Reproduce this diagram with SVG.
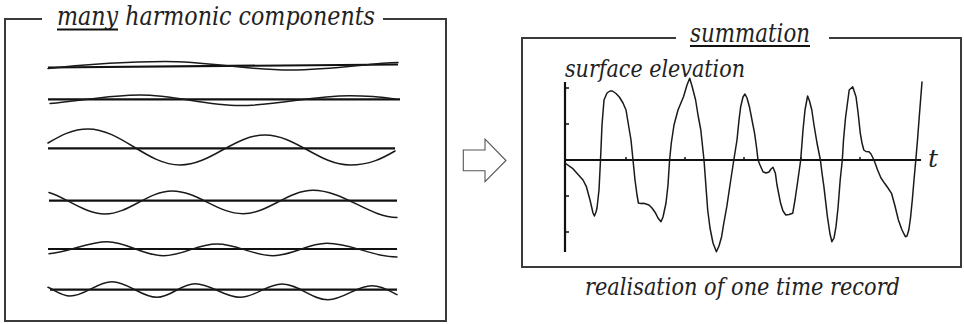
<svg xmlns="http://www.w3.org/2000/svg" width="964" height="324" viewBox="0 0 964 324">
<style>
.frame{fill:none;stroke:#3a3a3a;stroke-width:2}
.axis{fill:none;stroke:#111;stroke-width:2.2}
.wave{fill:none;stroke:#1a1a1a;stroke-width:1.5;stroke-linejoin:round;stroke-linecap:round}
.lbl{font-family:'DejaVu Serif','Liberation Serif',serif;font-style:italic;fill:#222}
.ul{stroke:#111;stroke-width:2}
.tick{stroke:#111;stroke-width:1.5}
</style>
<rect width="964" height="324" fill="#fff"/>

<g id="components">
  <path class="frame" d="M42 19 H5 V321 H446 V19 H383"/>
  <text class="lbl" x="57" y="25" font-size="26" textLength="318" lengthAdjust="spacingAndGlyphs">many harmonic components</text>
  <line class="ul" x1="57" y1="29.5" x2="118" y2="29.5"/>
  <g id="comp1">
    <line class="axis" x1="48" y1="67.5" x2="398" y2="64.5"/>
    <path class="wave" d="M48 68.5 C80 65 130 61.5 165 61.5 C210 61.5 245 70 290 70 C335 70 370 63 398 62.5"/>
  </g>
  <g id="comp2">
    <line class="axis" x1="48" y1="99.3" x2="400" y2="99.3"/>
    <path class="wave" d="M50 103.5 C80 101 110 95 140 95 C176 95 204 105.5 240 105.5 C280 105.5 310 95.7 350 95.7 C370 95.7 385 97.5 395 99"/>
  </g>
  <g id="comp3">
    <line class="axis" x1="48" y1="148.3" x2="395" y2="148.3"/>
    <path class="wave" d="M48 143 C60 136 72 129 88 129 C121 129 147 165 180 165 C211 165 234 135 265 135 C296 135 319 165 350 165 C370 165 383 158 395 151"/>
  </g>
  <g id="comp4">
    <line class="axis" x1="49" y1="200.7" x2="397" y2="200.7"/>
    <path class="wave" d="M49 192.5 C65 197 85 214 105 214 C129 214 148 191 172 191 C198 191 217 213.7 243 213.7 C268 213.7 288 190.3 313 190.3 C343 190.3 370 217.5 397 217.5"/>
  </g>
  <g id="comp5">
    <line class="axis" x1="48" y1="249" x2="397" y2="249"/>
    <path class="wave" d="M49 253.7 C70 252 88 241.7 107 241.7 C127 241.7 143 255.7 163 255.7 C183 255.7 197 244 217 244 C237 244 253 255.7 273 255.7 C293 255.7 307 243.3 327 243.3 C352 243.3 372 257 397 257"/>
  </g>
  <g id="comp6">
    <line class="axis" x1="50" y1="289.7" x2="397" y2="289.7"/>
    <path class="wave" d="M48 287.3 C56 291 62 296 70 296 C85 296 97 281.7 112 281.7 C128 281.7 141 297.3 157 297.3 C171 297.3 181 283.7 195 283.7 C211 283.7 224 297.3 240 297.3 C255 297.3 267 284 282 284 C299 284 311 299.7 328 299.7 C344 299.7 356 285.7 372 285.7 C382 285.7 390 291 397 294.7"/>
  </g>
</g>

<g id="connectors">
  <path d="M463.3 150 H485 V139 L506 160.5 L485 181.7 V170.7 H463.3 Z" fill="#fff" stroke="#555" stroke-width="1.1" stroke-linejoin="miter"/>
</g>

<g id="summation">
  <path class="frame" d="M676 38 H522 V267 H961 V38 H829"/>
  <text class="lbl" x="690" y="41.7" font-size="26" textLength="120" lengthAdjust="spacingAndGlyphs">summation</text>
  <line class="ul" x1="690" y1="46" x2="810" y2="46"/>
  <text class="lbl" x="565" y="76.7" font-size="24" textLength="180" lengthAdjust="spacingAndGlyphs">surface elevation</text>
  <line class="axis" x1="565" y1="82" x2="565" y2="252"/>
  <line class="axis" x1="565" y1="160" x2="921" y2="160"/>
  <g>
    <line class="tick" x1="565" y1="88" x2="569" y2="88"/>
    <line class="tick" x1="565" y1="124" x2="569" y2="124"/>
    <line class="tick" x1="565" y1="196" x2="569" y2="196"/>
    <line class="tick" x1="565" y1="232" x2="569" y2="232"/>
    <line class="tick" x1="626" y1="160" x2="626" y2="157"/>
    <line class="tick" x1="685" y1="160" x2="685" y2="157"/>
    <line class="tick" x1="744" y1="160" x2="744" y2="157"/>
    <line class="tick" x1="801" y1="160" x2="801" y2="157"/>
    <line class="tick" x1="860" y1="160" x2="860" y2="157"/>
  </g>
  <text class="lbl" x="928" y="167" font-size="25">t</text>
  <polyline class="wave" points="565,163 572.5,168.3 583,180 586.4,186.7 590,200 593,213 594.4,216 596,212 597,208 599,190 600.5,160 602,125 604,100 607,93 610,91 612.4,91 616,93.5 619.3,97 623,103 626,110 628,122 631,140 633,160 635,180 637,195 638.4,203 641,203.5 643.6,203.3 646,204 649,205 652,208 655.7,213.3 658,218 661,221.7 663,217 666,203 668,185 669.6,160 671.3,143 674,125 678,110 683.5,96.7 687,85 689.7,78.3 692,86 695.6,100 698,115 700.8,130 704,160 707.7,210 710,228 713,243 716.4,251.7 719,246 721.6,236.7 724,222 726.8,206.7 730,185 733.8,160 737,140 739,120 740.7,106.7 743,97 745,94 747,98 749.4,106.7 752,120 754.6,133.3 756.5,147 758,160 760,165 763,171.7 766,173 769,172 771,169 773,167.3 775.4,173.3 777,185 780.6,203.3 783,211 785.8,215 789,214.5 792.7,213.3 795,200 797.9,180 800.7,160 803,130 805,110 807.6,96 809.5,101 811.8,110 814,125 817,143 820.4,160 822,173 823.9,186.7 827.4,216.7 830,234 831.9,241.7 834,238 836,226.7 838,208 840.2,180 842.3,160 843.5,140 845.5,118 849.2,90 852.7,86.7 856,96.7 858,112 860.3,133.3 862,143 863.8,150 866,151.5 869,151.7 871,154 874,160 877.6,170 881,178 884.6,183.3 888,188 891.5,193.3 895,206 898.4,220 902,230 905.4,236.7 907,236 908.8,230 910.5,218 912.3,200 914,180 915.8,160 917.5,140 919,120 922,82"/>
  <text class="lbl" x="585" y="295" font-size="25" textLength="315" lengthAdjust="spacingAndGlyphs">realisation of one time record</text>
</g>
</svg>
